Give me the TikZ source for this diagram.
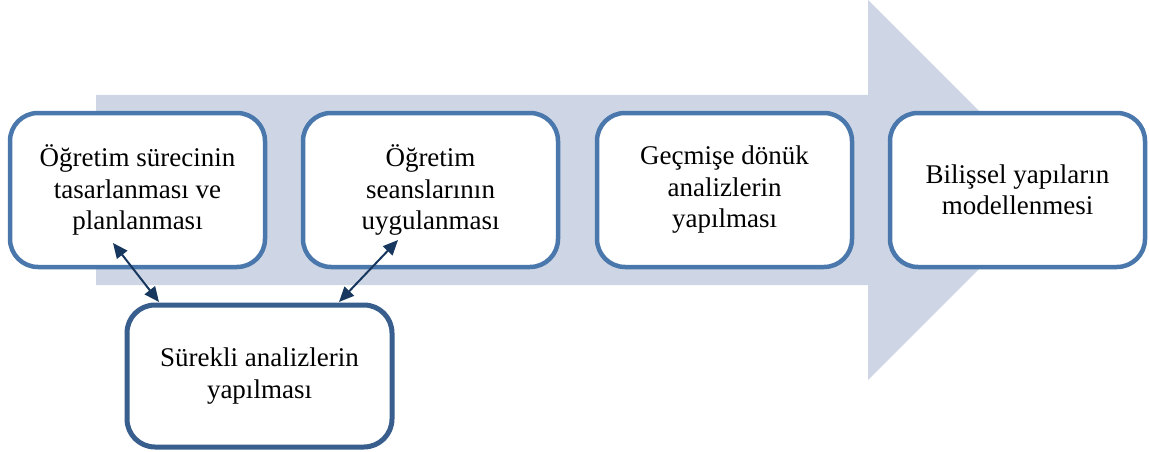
\documentclass[tikz,border=0pt]{standalone}
\usepackage{fontspec}
\setmainfont{Liberation Serif}
\usetikzlibrary{arrows.meta}

\definecolor{bandblue}{RGB}{206,214,230}
\definecolor{boxblue}{RGB}{74,120,172}
\definecolor{boxdark}{RGB}{56,94,141}
\definecolor{linknavy}{RGB}{23,55,94}

\begin{document}
\begin{tikzpicture}[x=1pt,y=-1pt,
  stage/.style={draw=boxblue,line width=4.5pt,fill=white,rounded corners=28pt,
    minimum width=255pt,minimum height=154pt,outer sep=0pt,inner sep=0pt,
    align=center,font=\fontsize{27}{31.5}\selectfont},
  link/.style={<->,>={Triangle[length=15pt,width=13pt]},
    draw=linknavy,fill=linknavy,line width=2pt}]

\useasboundingbox (0,0) rectangle (1149,452);

\fill[bandblue] (96,95) -- (868,95) -- (868,0) -- (1058,190) -- (868,380)
  -- (868,285) -- (96,285) -- cycle;

\node[stage] (plan) at (137.5,190) {Öğretim sürecinin\\tasarlanması ve\\planlanması};
\node[stage] (apply) at (430.5,190) {Öğretim\\seanslarının\\uygulanması};
\node[stage] (retro) at (724.5,190) {Geçmişe dönük\\analizlerin\\yapılması};
\node[stage] (model) at (1017.5,190) {Bilişsel yapıların\\modellenmesi};
\node[stage,draw=boxdark,line width=5pt,minimum width=265pt,minimum height=142pt]
  (ongoing) at (259.5,376) {Sürekli analizlerin\\yapılması};

\draw[link] ([xshift=-24.5pt,yshift=24pt]plan.south) -- ([xshift=-100.5pt,yshift=3pt]ongoing.north);
\draw[link] ([xshift=-32.5pt,yshift=27pt]apply.south) -- ([xshift=79.5pt,yshift=3pt]ongoing.north);

\end{tikzpicture}
\end{document}
